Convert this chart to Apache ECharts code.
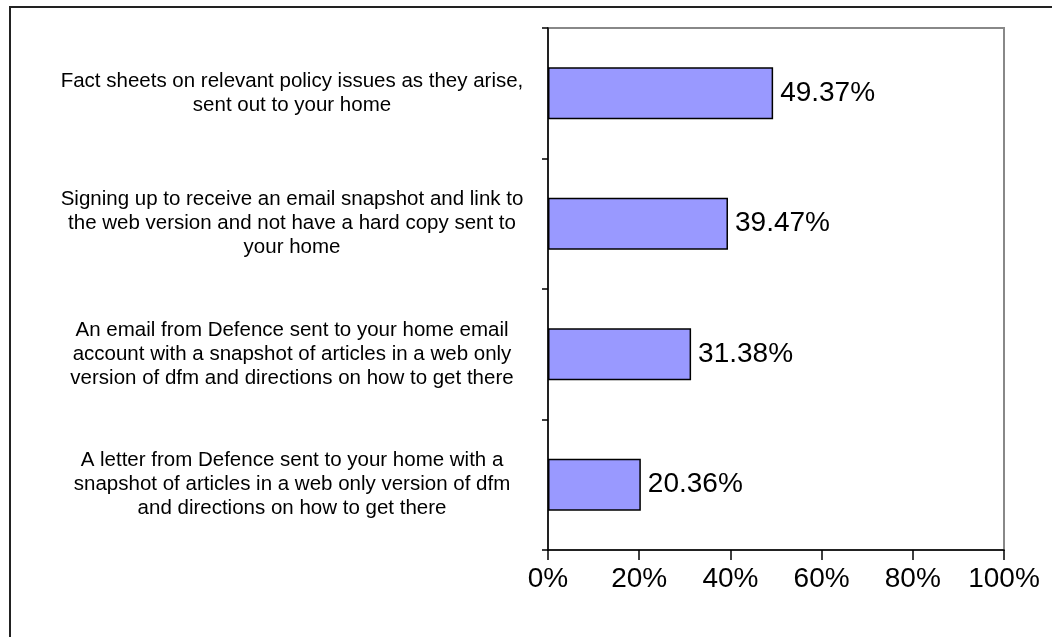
<!DOCTYPE html>
<html>
<head>
<meta charset="utf-8">
<script src="https://cdn.jsdelivr.net/npm/echarts@6/dist/echarts.min.js"></script>
<style>
html,body{margin:0;padding:0;background:#fff;}
#chart{width:1052px;height:637px;}
</style>
</head>
<body>
<div id="chart"></div>
<script>
var categories = [
  "Fact sheets on relevant policy issues as they arise,\nsent out to your home",
  "Signing up to receive an email snapshot and link to\nthe web version and not have a hard copy sent to\nyour home",
  "An email from Defence sent to your home email\naccount with a snapshot of articles in a web only\nversion of dfm and directions on how to get there",
  "A letter from Defence sent to your home with a\nsnapshot of articles in a web only version of dfm\nand directions on how to get there"
];
var values = [49.37, 39.47, 31.38, 20.36];
var xTicks = [0, 20, 40, 60, 80, 100];

var chart = echarts.init(document.getElementById('chart'), null, {renderer: 'canvas'});
var font = 'Arial, "Liberation Sans", sans-serif';
chart.setOption({
  animation: false,
  backgroundColor: '#fff',
  textStyle: {fontFamily: font},
  graphic: [{
    type: 'rect',
    shape: {x: 10, y: 7, width: 1100, height: 700},
    style: {fill: 'none', stroke: '#222', lineWidth: 2},
    silent: true
  }],
  grid: {
    left: 548, right: 48, top: 28, bottom: 87,
    show: true, borderColor: '#888', borderWidth: 2, backgroundColor: '#fff'
  },
  xAxis: {
    type: 'value',
    min: xTicks[0], max: xTicks[xTicks.length - 1], interval: 20,
    axisLine: {show: true, lineStyle: {color: '#000', width: 1.5}},
    axisTick: {show: true, length: 10, lineStyle: {color: '#000', width: 1.5}},
    splitLine: {show: false},
    axisLabel: {
      formatter: '{value}%', color: '#000', fontSize: 28, margin: 15, fontFamily: font
    }
  },
  yAxis: {
    type: 'category',
    data: categories,
    inverse: true,
    axisLine: {show: true, lineStyle: {color: '#000', width: 1.5}},
    axisTick: {show: true, length: 6, lineStyle: {color: '#000', width: 1.5}},
    axisLabel: {
      align: 'center', margin: 256, color: '#000', fontSize: 20.5, lineHeight: 24, fontFamily: font
    }
  },
  series: [{
    type: 'bar',
    data: values,
    barWidth: 52,
    itemStyle: {color: '#9999FF', borderColor: '#000', borderWidth: 1.5},
    label: {
      show: true, position: 'right', distance: 7,
      formatter: function (p) { return p.value.toFixed(2) + '%'; },
      color: '#000', fontSize: 28, fontFamily: font
    }
  }]
});
</script>
</body>
</html>
